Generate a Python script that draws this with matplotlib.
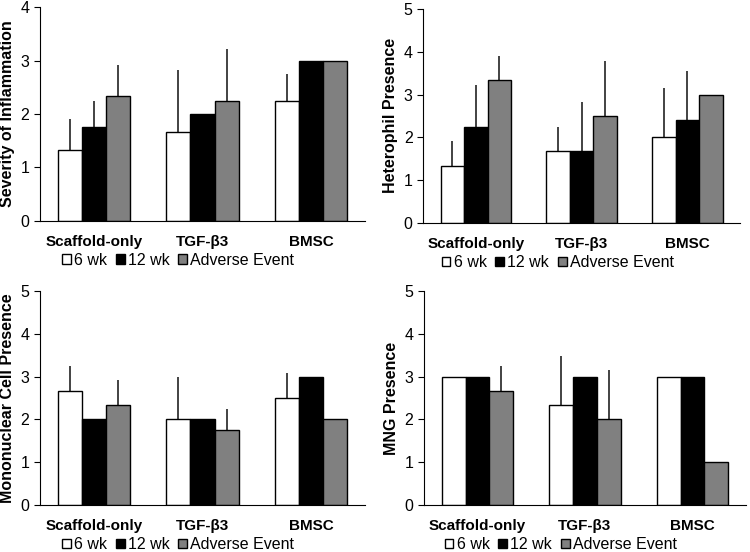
import matplotlib.pyplot as plt
import numpy as np

plt.rcParams['font.family'] = ['Liberation Sans', 'DejaVu Sans']

groups = ["Scaffold-only", "TGF-\u03b23", "BMSC"]
series = ["6 wk", "12 wk", "Adverse Event"]
colors = ["white", "black", "#808080"]

# means[series][group], errors[series][group]
inflam_mean = [[1.33, 1.67, 2.25], [1.75, 2.0, 3.0], [2.33, 2.25, 3.0]]
inflam_err = [[0.58, 1.15, 0.5], [0.5, 0, 0], [0.58, 0.96, 0]]

hetero_mean = [[1.33, 1.67, 2.0], [2.25, 1.67, 2.4], [3.33, 2.5, 3.0]]
hetero_err = [[0.58, 0.58, 1.15], [0.97, 1.15, 1.15], [0.58, 1.29, 0]]

mono_mean = [[2.67, 2.0, 2.5], [2.0, 2.0, 3.0], [2.33, 1.75, 2.0]]
mono_err = [[0.58, 1.0, 0.58], [0, 0, 0], [0.58, 0.5, 0]]

mng_mean = [[3.0, 2.33, 3.0], [3.0, 3.0, 3.0], [2.67, 2.0, 1.0]]
mng_err = [[0, 1.15, 0], [0, 0, 0], [0.58, 1.15, 0]]

panels = [
    ("Severity of Inflammation", 4, inflam_mean, inflam_err, [0.053, 0.600, 0.434, 0.387]),
    ("Heterophil Presence", 5, hetero_mean, hetero_err, [0.564, 0.596, 0.423, 0.388]),
    ("Mononuclear Cell Presence", 5, mono_mean, mono_err, [0.053, 0.085, 0.434, 0.388]),
    ("MNG Presence", 5, mng_mean, mng_err, [0.565, 0.085, 0.430, 0.388]),
]

fig = plt.figure(figsize=(7.5, 5.52), dpi=100)
x = np.arange(len(groups))
w = 0.222

for ylabel, ymax, means, errs, pos in panels:
    ax = fig.add_axes(pos)
    for i in range(3):
        m = np.array(means[i])
        e = np.array(errs[i])
        ax.bar(x + (i - 1) * w, m, w, color=colors[i], edgecolor="black",
               linewidth=1, label=series[i], zorder=2)
        ax.errorbar(x + (i - 1) * w, m, yerr=[np.zeros_like(e), e], fmt="none",
                    ecolor="#222222", elinewidth=1.2, capsize=0, zorder=1)
    ax.set_xlim(-0.5, 2.5)
    ax.set_ylim(0, ymax)
    ax.set_yticks(range(ymax + 1))
    ax.set_xticks(x)
    ax.set_xticklabels(groups, fontsize=11, fontweight="bold")
    ax.tick_params(axis="x", length=0, pad=10)
    ax.tick_params(axis="y", labelsize=11.5, length=4, direction="out")
    ax.set_ylabel(ylabel, fontsize=11.5, fontweight="bold", labelpad=4)
    ax.spines["top"].set_visible(False)
    ax.spines["right"].set_visible(False)
    ax.legend(loc="upper center", bbox_to_anchor=(0.425, -0.15), ncol=3,
              frameon=False, fontsize=11.5, handlelength=0.55, handleheight=0.55,
              handletextpad=0.2, columnspacing=0.55, borderpad=0, borderaxespad=0)

fig.savefig("out.png", dpi=100)
